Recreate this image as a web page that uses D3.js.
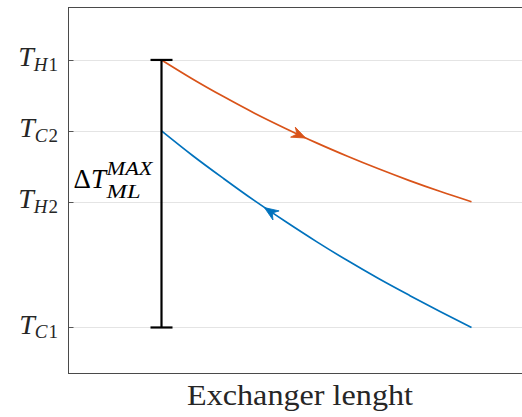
<!DOCTYPE html>
<html lang="en">
<head>
<meta charset="utf-8">
<script src="https://d3js.org/d3.v7.min.js"></script>
<style type="text/css">
body {
	margin: 0;
	background: white;
}
svg text {
	font-family: "Liberation Serif", "Times New Roman", Times, "DejaVu Serif", "Noto Serif", serif;
	fill: #262626;
}
</style>
</head>
<body>
<script type="text/javascript">

// Chart size
var width = 522;
var height = 417;

// Data: exchanger length (0..1) and temperatures
var length = [0, 0.1, 0.2, 0.3, 0.4, 0.5, 0.6, 0.7, 0.8, 0.9, 1.0];
var hotT   = [100, 92.9, 86.3, 80.1, 74.4, 69.0, 64.0, 59.3, 54.9, 50.8, 47.0];
var coldT  = [73.5, 64.3, 55.7, 47.4, 39.6, 32.1, 25.0, 18.3, 12.0, 5.9, 0];

// Y tick labels (T with subscript) and their values
var tickNames  = ["H1", "C2", "H2", "C1"];
var tickValues = [100, 73.5, 47, 0];

// Flow direction arrows on the curves
var arrowX   = [0.465, 0.332];
var arrowT   = [70.8, 44.8];
var arrowDir = [1, -1];

// Max log-mean difference bar
var barX = 0;
var barLow = 0;
var barHigh = 100;

var colors = ["#D95319", "#0072BD"];

var margin = {left: 68.5, top: 7.5, bottom: 373.5};

var x = d3.scaleLinear()
          .domain([-0.3, 1.2])
          .range([margin.left, margin.left + 1.5 * 310]);

var y = d3.scaleLinear()
          .domain([-17.2, 119.6])
          .range([margin.bottom, margin.top]);

var svg = d3.select("body")
            .append("svg")
            .attr("width", width)
            .attr("height", height);

// Grid lines
svg.selectAll("line.grid")
   .data(tickValues)
   .enter()
   .append("line")
   .attr("class", "grid")
   .attr("x1", x.range()[0])
   .attr("x2", x.range()[1])
   .attr("y1", function(d) { return Math.round(y(d)) + 0.5; })
   .attr("y2", function(d) { return Math.round(y(d)) + 0.5; })
   .style("stroke", "#e4e4e4")
   .style("stroke-width", 1);

// Small ticks inside the left axis
svg.selectAll("line.tick")
   .data(tickValues)
   .enter()
   .append("line")
   .attr("class", "tick")
   .attr("x1", x.range()[0])
   .attr("x2", x.range()[0] + 5)
   .attr("y1", function(d) { return Math.round(y(d)) + 0.5; })
   .attr("y2", function(d) { return Math.round(y(d)) + 0.5; })
   .style("stroke", "#555")
   .style("stroke-width", 1);

// Axes box
svg.append("rect")
   .attr("x", x.range()[0])
   .attr("y", y.range()[1])
   .attr("width", x.range()[1] - x.range()[0])
   .attr("height", y.range()[0] - y.range()[1])
   .style("fill", "none")
   .style("stroke", "#4a4a4a")
   .style("stroke-width", 1);

// Tick labels
var labels = svg.selectAll("text.ylab")
   .data(tickValues)
   .enter()
   .append("text")
   .attr("class", "ylab")
   .attr("x", 58)
   .attr("y", function(d) { return y(d) + 6.5; })
   .attr("text-anchor", "end");

labels.append("tspan")
      .style("font-size", "28px")
      .style("font-style", "italic")
      .text("T");
labels.append("tspan")
      .attr("dy", 4.5)
      .style("font-size", "19px")
      .style("font-style", "italic")
      .text(function(d, i) { return tickNames[i][0]; });
labels.append("tspan")
      .attr("dx", 1)
      .style("font-size", "19px")
      .text(function(d, i) { return tickNames[i].slice(1); });

// Curves
var line = d3.line()
             .x(function(d) { return x(d[0]); })
             .y(function(d) { return y(d[1]); })
             .curve(d3.curveMonotoneX);

[hotT, coldT].forEach(function(series, k) {
  svg.append("path")
     .datum(length.map(function(l, i) { return [l, series[i]]; }))
     .attr("d", line)
     .style("fill", "none")
     .style("stroke", colors[k])
     .style("stroke-width", 1.7);
});

// Arrowheads, oriented along the curve
[hotT, coldT].forEach(function(series, k) {
  var i = d3.bisectRight(length, arrowX[k]);
  var dx = x(length[i]) - x(length[i - 1]);
  var dy = y(series[i]) - y(series[i - 1]);
  var ang = Math.atan2(dy * arrowDir[k], dx * arrowDir[k]) * 180 / Math.PI;
  svg.append("path")
     .attr("d", "M0,0 L-14,-5.5 L-9.5,0 L-14,5.5 Z")
     .attr("transform", "translate(" + x(arrowX[k]) + "," + y(arrowT[k]) + ") rotate(" + ang + ")")
     .style("fill", colors[k])
     .style("stroke", colors[k])
     .style("stroke-width", 0.8)
     .style("stroke-linejoin", "miter");
});

// Error bar
svg.append("line")
   .attr("x1", x(barX)).attr("x2", x(barX))
   .attr("y1", y(barHigh)).attr("y2", y(barLow))
   .style("stroke", "black")
   .style("stroke-width", 2.2);
[barHigh, barLow].forEach(function(v) {
  svg.append("line")
     .attr("x1", x(barX) - 11).attr("x2", x(barX) + 11)
     .attr("y1", y(v)).attr("y2", y(v))
     .style("stroke", "black")
     .style("stroke-width", 2.2);
});

// Bar label
var lx = x(barX) - 88;
var ly = 188;
svg.append("text")
   .attr("x", lx).attr("y", ly)
   .style("font-size", "27px")
   .style("fill", "black")
   .html('<tspan>\u0394</tspan><tspan font-style="italic">T</tspan>');
svg.append("text")
   .attr("x", lx + 33).attr("y", ly - 13)
   .attr("textLength", 46)
   .attr("lengthAdjust", "spacingAndGlyphs")
   .style("font-size", "18px")
   .style("font-style", "italic")
   .style("fill", "black")
   .text("MAX");
svg.append("text")
   .attr("x", lx + 33).attr("y", ly + 9.5)
   .attr("textLength", 34)
   .attr("lengthAdjust", "spacingAndGlyphs")
   .style("font-size", "18px")
   .style("font-style", "italic")
   .style("fill", "black")
   .text("ML");

// X label
svg.append("text")
   .attr("x", 300)
   .attr("y", 405)
   .attr("text-anchor", "middle")
   .attr("textLength", 226)
   .attr("lengthAdjust", "spacingAndGlyphs")
   .style("font-size", "29px")
   .text("Exchanger lenght");

</script>
</body>
</html>
